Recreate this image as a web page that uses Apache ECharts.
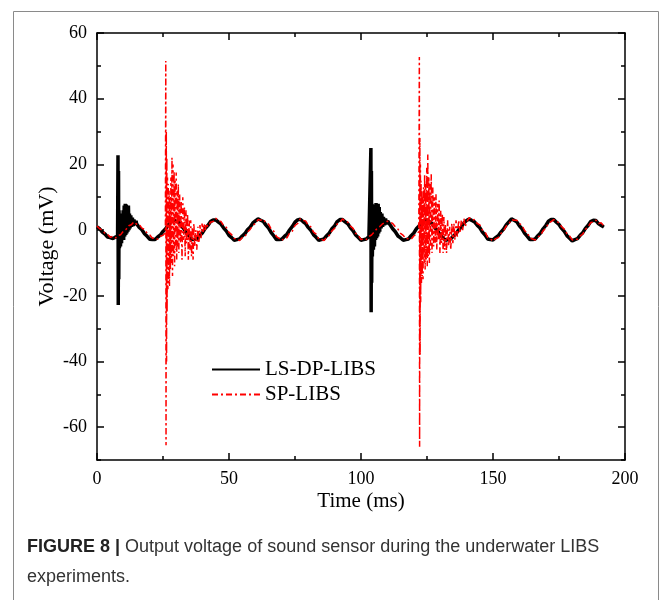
<!DOCTYPE html>
<html>
<head>
<meta charset="utf-8">
<script src="https://cdn.jsdelivr.net/npm/echarts@6/dist/echarts.min.js"></script>
<style>
html,body{margin:0;padding:0;background:#fff;}
#chart{width:667px;height:600px;}
</style>
</head>
<body>
<div id="chart"></div>
<script>
// ---- Data ----
const seriesNames = ['LS-DP-LIBS', 'SP-LIBS'];
const xTickValues = [0, 50, 100, 150, 200];
const yTickValues = [-60, -40, -20, 0, 20, 40, 60];
const yMinorValues = [-70, -50, -30, -10, 10, 30, 50];

// LS-DP-LIBS: values at t = 0,1,2,...,192 ms (null where the spike detail below is used)
const lsBaseVolt = [
  1.0, 0.4, -0.6, -1.2, -2.1, -2.3, -2.6, -2.1,
  null, null, null, null, null, null, null,
  1.9, 0.8, 0.1, -1.1, -1.9, -2.8, -2.9, -2.9, -2.1, -1.5, -0.4,
  0.4, 1.6, 2.4, 3.1, 2.7, 2.3, 1.2, 0.3, -1.1, -1.9, -2.9, -2.8, -2.6, -1.6, -0.8, 0.5,
  1.4, 2.6, 3.1, 3.1, 2.4, 1.8, 0.6, -0.3, -1.6, -2.3, -3.1, -2.9, -2.7, -1.8, -1.1, 0.1,
  0.9, 2.1, 2.8, 3.4, 3.0, 2.6, 1.5, 0.6, -0.8, -1.8, -2.9, -2.9, -2.8, -1.9, -1.2, 0.1,
  1.1, 2.4, 3.1, 3.3, 2.6, 2.0, 0.8, -0.1, -1.4, -2.2, -3.1, -2.9, -2.7, -1.7, -0.9, 0.4,
  1.3, 2.6, 3.2, 3.2, 2.5, 1.9, 0.7, -0.2, -1.5, -2.3, -3.1, -2.9, -2.7, -2.0,
  null, null, null, null, null, null, null,
  1.6, 0.4, -0.5, -1.8, -2.4, -3.1, -2.9, -2.7, -1.7, -0.9, 0.4, 1.3, 2.5, 2.9, 3.1, 2.5,
  1.9, 0.7, -0.2, -1.5, -2.3, -3.1, -2.9, -2.7, -1.8, -1.1, 0.1, 0.9, 2.2, 2.9, 3.4, 2.9,
  2.5, 1.5, 0.7, -0.6, -1.5, -2.7, -2.9, -3.0, -2.3, -1.7, -0.6, 0.3, 1.6, 2.5, 3.4, 3.0,
  2.5, 1.3, 0.4, -1.0, -1.9, -2.9, -2.9, -2.7, -1.7, -0.9, 0.4, 1.4, 2.7, 3.2, 3.2, 2.4,
  1.7, 0.5, -0.4, -1.7, -2.5, -3.3, -2.9, -2.6, -1.6, -0.8, 0.5, 1.4, 2.6, 3.0, 2.9, 1.9, 1.4, 0.9
];
// LS-DP-LIBS spike details
const lsBurstTime = [
  7.8, 7.95, 8.05, 8.15, 8.25, 8.35, 8.5, 8.7, 8.9, 9.1, 9.3, 9.5, 9.7, 9.9, 10.1, 10.3, 10.5,
  10.7, 10.9, 11.1, 11.3, 11.5, 11.7, 11.9, 12.1, 12.3, 12.5, 12.8, 13.1, 13.4, 13.7, 14.0, 14.4, 14.8,
  103.6, 103.75, 103.85, 103.95, 104.05, 104.15, 104.3, 104.5, 104.7, 104.9, 105.1, 105.3, 105.5,
  105.7, 105.9, 106.1, 106.3, 106.5, 106.7, 106.9, 107.1, 107.3, 107.6, 107.9, 108.2, 108.5, 108.9,
  109.3, 109.7, 110.1
];
const lsBurstVolt = [
  -1.8, 22.8, -22.8, 18, -15, 6, -5.5, 3, -5, 4, -4, 5, -3, 6, -3, 7.5, -2,
  8, -1.5, 7.8, -1, 6.5, -0.5, 7.5, 0, 5, 0.5, 4.5, 1, 3.8, 1.2, 3.2, 1.5, 2.8,
  -1.8, 25, -25, 18, -16, 8, -8, 4, -6, 6, -5, 7.8, -3,
  8.2, -2.5, 6.5, -2, 8, -1, 7, -0.5, 5.5, 0.5, 5, 1, 4, 1.5,
  3.5, 1.8, 2.8
];

// SP-LIBS: values at t = 0,1,2,...,192 ms (null where the burst detail below is used)
const spBaseVolt = [
  1.2, 0.4, 0.0, -1.0, -1.3, -2.2, -1.9, -2.4,
  -1.6, -1.4, -0.3, 0.2, 1.3, 1.6, 2.5, 1.8,
  1.7, 0.6, 0.2, -1.0, -1.5, -2.5, -2.3, -2.8, -1.9, -1.6,
  null, null, null, null, null, null, null, null, null, null, null, null, null, null, null, null,
  1.0, 2.4, 2.6, 3.6, 2.8, 2.6, 1.3, 0.8, -0.7, -1.4, -2.6, -2.7, -3.2, -2.3, -2.0, -0.6,
  0.2, 1.4, 2.0, 3.2, 3.0, 3.3, 2.2, 1.8, 0.3, -0.4, -2.0, -2.5, -3.2, -2.4, -2.3, -0.8,
  -0.3, 1.4, 2.0, 3.4, 2.9, 2.8, 1.5, 1.0, -0.6, -1.2, -2.7, -2.8, -3.2, -2.2, -1.6, -0.2,
  0.5, 1.9, 2.4, 3.4, 2.8, 2.4, 1.2, 0.5, -1.0, -1.6, -2.9, -2.6, -2.9, -2.0, -1.5, -0.6,
  0.4, 1.0, 1.8, 2.3, 2.7, 2.4, 2.0, 1.0, 0.3, -1.0, -1.6, -2.7, -2.6, -2.8, -1.8, -1.2,
  null, null, null, null, null, null, null, null, null, null, null, null, null, null, null, null, null, null,
  2.5, 3.8, 3.0, 3.2, 2.0, 1.6, 0.0, -0.6, -2.2, -2.6, -3.4, -2.6, -2.3, -1.0, -0.2, 1.2,
  1.8, 3.2, 3.0, 3.0, 2.0, 1.4, -0.2, -0.8, -2.4, -2.7, -3.0, -2.1, -1.6, -0.2, 0.6, 2.0,
  2.6, 3.2, 2.7, 2.2, 1.0, 0.3, -1.1, -1.8, -3.0, -2.8, -2.8, -1.8, -1.2, 0.2, 0.9, 2.3, 2.4, 3.0, 2.0, 2.2, 1.2
];
// SP-LIBS burst details
const spBurstTime = [
  25.9, 26.05, 26.15, 26.25, 26.35, 26.45, 26.55, 26.7, 26.85, 27.0, 27.15, 27.3, 27.45, 27.6, 27.8,
  28.0, 28.2, 28.4, 28.6, 28.8, 29.0, 29.2, 29.4, 29.6, 29.8, 30.0, 30.2, 30.4, 30.6, 30.8, 31.0,
  31.3, 31.6, 31.9, 32.2, 32.5, 32.8, 33.1, 33.4, 33.7, 34.0, 34.3, 34.6, 34.9, 35.2, 35.5, 35.8,
  36.1, 36.4, 36.7, 37.0, 37.4, 37.8, 38.2, 38.6, 39.0, 39.4, 39.8, 40.2, 40.6, 41.0, 41.5,
  121.9, 122.1, 122.2, 122.3, 122.4, 122.5, 122.6, 122.75, 122.9, 123.05, 123.2, 123.35, 123.5,
  123.7, 123.9, 124.1, 124.3, 124.5, 124.7, 124.9, 125.1, 125.3, 125.5, 125.7, 125.9, 126.1, 126.3,
  126.6, 126.9, 127.2, 127.5, 127.8, 128.1, 128.4, 128.7, 129.0, 129.3, 129.6, 129.9, 130.2, 130.5,
  130.8, 131.1, 131.4, 131.7, 132.0, 132.4, 132.8, 133.2, 133.6, 134.0, 134.4, 134.8, 135.2, 135.6,
  136.0, 136.5, 137.0, 137.5, 138.0, 138.5, 139.0, 139.5
];
const spBurstVolt = [
  -0.8, 51.5, -65.5, 30, -40, 22, -25, 16, -18, 14, -16, 12, -17, 10, -12,
  16, -10, 22, -14, 20, -8, 18, -11, 15, -6, 17.5, -9, 12, -5, 14, -7,
  11, -4, 9, -9, 10, -3, 7, -8, 6, -4, 5, -9, 3, -6, 3, -8,
  1, -9, 2, -5, 0, -6, 1, -4, 1.5, -2.5, 2, -1, 2, 0, 2,
  -0.5, 52.7, -66, 28, -38, 20, -22, 15, -16, 12, -14, 10, -15,
  13, -10, 17, -12, 14, -9, 19, -11, 23, -8, 16, -10, 14, -6,
  17, -7, 13, -5, 10, -4, 11, -6, 8, -3, 9, -7, 6, -4,
  5, -7, 4, -6, 2, -7, 3, -5, 1, -6, 2, -4, 2, -3,
  3, -2, 3, -1, 3, 0, 3.5, 1
];

function buildPoints(base, burstT, burstV) {
  const pts = [];
  base.forEach(function (v, i) { if (v !== null) pts.push([i, v]); });
  burstT.forEach(function (t, i) { pts.push([t, burstV[i]]); });
  pts.sort(function (a, b) { return a[0] - b[0]; });
  return pts;
}

const serif = 'Liberation Serif';
const chart = echarts.init(document.getElementById('chart'), null, { renderer: 'canvas' });

function xAx(pos, labels) {
  return {
    type: 'value', position: pos, min: 0, max: 200, interval: 50,
    gridIndex: 0,
    name: labels ? 'Time (ms)' : '', nameLocation: 'middle', nameGap: 31, nameMoveOverlap: false,
    nameTextStyle: { fontFamily: serif, fontSize: 21, color: '#000' },
    axisLine: { show: true, onZero: false, lineStyle: { color: '#000', width: 1.5 } },
    axisTick: { show: true, inside: true, length: 7, lineStyle: { color: '#000', width: 1.5 } },
    minorTick: { show: true, splitNumber: 2, length: 4, lineStyle: { color: '#000', width: 1.5 } },
    axisLabel: { show: labels, margin: 10, fontFamily: serif, fontSize: 18, color: '#000' },
    splitLine: { show: false }, minorSplitLine: { show: false }
  };
}
function yAx(pos, labels, values, len, main) {
  return {
    type: 'value', position: pos, min: -70, max: 60,
    gridIndex: 0,
    name: (labels && main) ? 'Voltage (mV)' : '', nameLocation: 'middle', nameGap: 39, nameMoveOverlap: false,
    nameTextStyle: { fontFamily: serif, fontSize: 22, color: '#000' },
    axisLine: { show: main, onZero: false, lineStyle: { color: '#000', width: 1.5 } },
    axisTick: { show: true, inside: true, length: len, customValues: values, lineStyle: { color: '#000', width: 1.5 } },
    axisLabel: { show: labels, customValues: values, margin: 10, fontFamily: serif, fontSize: 18, color: '#000' },
    splitLine: { show: false }
  };
}

const option = {
  animation: false,
  backgroundColor: '#fff',
  grid: { left: 97, right: 42, top: 33, bottom: 140, containLabel: false },
  xAxis: [xAx('bottom', true), xAx('top', false)],
  yAxis: [
    yAx('left', true, yTickValues, 7, true),
    yAx('left', false, yMinorValues, 4, false),
    yAx('right', false, yTickValues, 7, true),
    yAx('right', false, yMinorValues, 4, false)
  ],
  legend: {
    data: seriesNames,
    orient: 'vertical', left: 206, top: 354,
    itemWidth: 48, itemHeight: 21, itemGap: 4,
    itemStyle: { opacity: 0 },
    textStyle: { fontFamily: serif, fontSize: 21, color: '#000', lineHeight: 21 }
  },
  series: [
    {
      name: seriesNames[0], type: 'line', xAxisIndex: 0, yAxisIndex: 0,
      data: buildPoints(lsBaseVolt, lsBurstTime, lsBurstVolt),
      symbol: 'none', showSymbol: false, sampling: null,
      lineStyle: { color: '#000', width: 3.5 }, itemStyle: { color: '#000' }, z: 2
    },
    {
      name: seriesNames[1], type: 'line', xAxisIndex: 0, yAxisIndex: 0,
      data: buildPoints(spBaseVolt, spBurstTime, spBurstVolt),
      symbol: 'none', showSymbol: false, sampling: null,
      lineStyle: { color: '#ff0000', width: 1.5, type: [6, 3, 2, 3] }, itemStyle: { color: '#ff0000' }, z: 3
    }
  ],
  graphic: [
    {
      type: 'rect', left: 11, top: 9, silent: true,
      shape: { width: 645, height: 620 },
      style: { fill: 'none', stroke: '#8a8a8a', lineWidth: 1 }
    },
    {
      type: 'text', left: 27, top: 538,
      style: {
        text: '{b|FIGURE 8 |} Output voltage of sound sensor during the underwater LIBS',
        fontFamily: 'Liberation Sans', fontSize: 18, fill: '#333',
        rich: { b: { fontFamily: 'Liberation Sans', fontSize: 18, fontWeight: 'bold', fill: '#222' } }
      }
    },
    {
      type: 'text', left: 27, top: 568,
      style: { text: 'experiments.', fontFamily: 'Liberation Sans', fontSize: 18, fill: '#333' }
    }
  ]
};
chart.setOption(option);
</script>
</body>
</html>
